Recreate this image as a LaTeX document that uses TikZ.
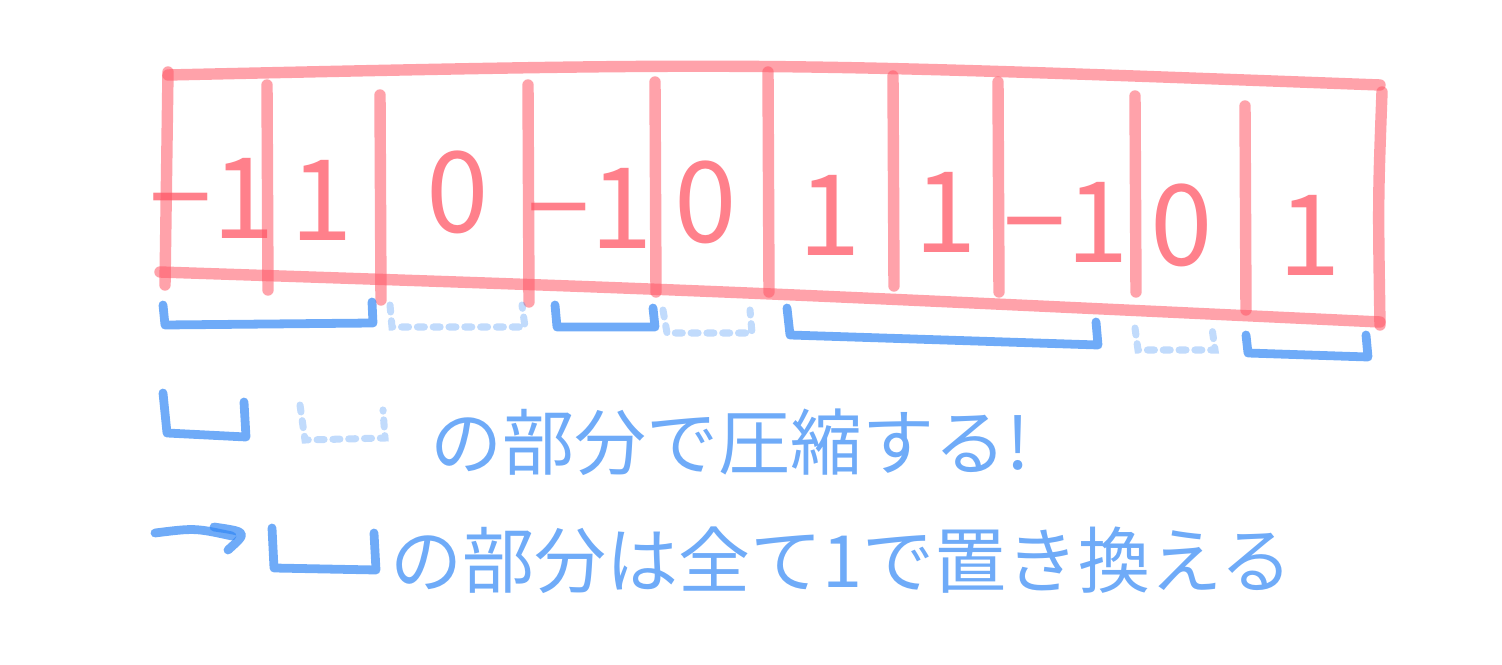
\documentclass[tikz,border=0pt]{standalone}
\usepackage{fontspec}
\newfontfamily\jpfont{Noto Sans CJK JP}
\usetikzlibrary{arrows.meta}
\definecolor{penred}{RGB}{255,85,100}
\definecolor{penblue}{RGB}{50,135,245}

\begin{document}
\begin{tikzpicture}[x=0.02cm,y=-0.02cm,
  redpen/.style={line width=6.5pt,penred,opacity=0.55,line cap=round,line join=round},
  bluepen/.style={line width=5pt,penblue,opacity=0.7,line cap=round,line join=round},
  dotpen/.style={line width=4pt,penblue,opacity=0.3,dash pattern=on 4pt off 5pt,line cap=round},
  digit/.style={font=\jpfont\fontsize{64}{64}\selectfont,text=penred,text opacity=0.75},
  jptext/.style={font=\jpfont\fontsize{41}{41}\selectfont,text=penblue,text opacity=0.7,anchor=west,inner sep=0pt}]
  \useasboundingbox (0,0) rectangle (1502,665);
  % the array
  \draw[redpen] (168,72) -- (165,285);
  \draw[redpen] (168,75) .. controls (760,62) .. (1380,85);
  \draw[redpen] (160,272) .. controls (700,290) .. (1380,322);
  \draw[redpen] (1382,92) .. controls (1378,200) .. (1380,325);
  \foreach \x/\t/\b in {267/85/290,380/95/300,528/85/302,655/82/292,768/72/292,
                        893/76/286,998/82/292,1135/96/292,1245/106/310}
    \draw[redpen] (\x,\t) -- (\x+1,\b);
  \node[digit] (c1)  at (212,198) {−1};
  \node[digit] (c2)  at (322,200) {1};
  \node[digit] (c3)  at (458,192) {0};
  \node[digit] (c4)  at (590,208) {−1};
  \node[digit] (c5)  at (706,202) {0};
  \node[digit] (c6)  at (830,215) {1};
  \node[digit] (c7)  at (946,212) {1};
  \node[digit] (c8)  at (1066,222) {−1};
  \node[digit] (c9)  at (1182,225) {0};
  \node[digit] (c10) at (1310,235) {1};
  % brackets under the array
  \draw[bluepen] (163,305) -- (165,325) -- (373,323) -- (372,302);
  \draw[bluepen] (555,305) -- (557,327) -- (655,327) -- (653,308);
  \draw[bluepen] (787,308) -- (790,335) -- (1098,345) -- (1096,322);
  \draw[bluepen] (1246,335) -- (1248,353) -- (1368,357) -- (1366,335);
  \draw[dotpen] (390,305) -- (392,327) -- (525,327) -- (522,305);
  \draw[dotpen] (663,310) -- (667,333) -- (752,333) -- (750,310);
  \draw[dotpen] (1135,328) -- (1138,350) -- (1215,350) -- (1212,328);
  % legend
  \draw[bluepen] (163,393) -- (167,433) -- (246,437) -- (244,402);
  \draw[dotpen] (300,405) -- (305,440) -- (385,438) -- (383,410);
  \node[jptext] (line1) at (430,442) {の部分で圧縮する!};
  \draw[bluepen] (155,533) .. controls (195,528) .. (232,536);
  \draw[bluepen] (214,527) .. controls (248,532) .. (228,550);
  \draw[bluepen] (272,528) -- (274,568) -- (376,570) -- (374,533);
  \node[jptext] (line2) at (390,560) {の部分は全て1で置き換える};
\end{tikzpicture}
\end{document}
